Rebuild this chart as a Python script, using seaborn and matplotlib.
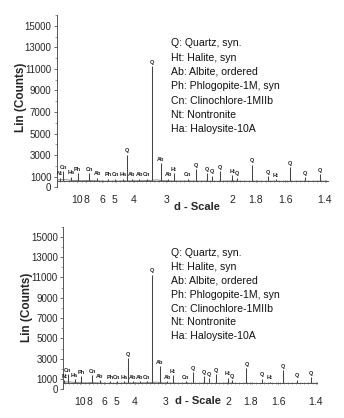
import numpy as np
import pandas as pd
import matplotlib
matplotlib.use("Agg")
import matplotlib.pyplot as plt
import seaborn as sns

# --- data (2-theta in degrees, Cu K-alpha) ---
peak_2theta = [4.96, 5.73, 7.46, 9.09, 11.80, 13.67, 16.17, 17.81, 19.60, 20.54,
               21.71, 23.48, 25.21, 26.52, 28.48, 30.26, 31.59, 34.79, 36.66, 39.37,
               40.53, 42.33, 45.21, 46.23, 49.74, 53.62, 55.42, 58.69, 62.19, 65.69]
peak_counts = [900, 1500, 1000, 1300, 1350, 900, 800, 800, 800, 3050,
               800, 800, 800, 11270, 2250, 800, 1350, 800, 1700, 1300,
               1100, 1500, 1150, 900, 2100, 1050, 750, 1850, 950, 1200]
peak_labels = ["Nt", "Cn", "Ha", "Ph", "Cn", "Ab", "Ph", "Cn", "Ha", "Q",
               "Ab", "Ab", "Cn", "Q", "Ab", "Ab", "Ht", "Cn", "Q", "Q",
               "Q", "Q", "Ht", "Q", "Q", "Q", "Ht", "Q", "Q", "Q"]

base_2theta = [4.5, 6, 8, 10, 12, 14, 16, 18, 20, 22, 24, 26, 27.5, 29, 31, 33, 35,
               37, 39, 41, 43, 45, 47, 49, 51, 53, 55, 57, 59, 61, 63, 65, 67.5]
base_counts = [700, 720, 650, 620, 640, 600, 580, 590, 600, 610, 620, 640, 700, 620,
               600, 590, 600, 580, 590, 570, 580, 600, 580, 570, 580, 570, 580, 570,
               570, 580, 570, 580, 570]

d_ticks = [10, 8, 6, 5, 4, 3, 2, 1.8, 1.6, 1.4]
y_ticks = [0, 1000, 3000, 5000, 7000, 9000, 11000, 13000, 15000]

phases = ["Q: Quartz, syn.", "Ht: Halite, syn", "Ab: Albite, ordered",
          "Ph: Phlogopite-1M, syn", "Cn: Clinochlore-1MIIb", "Nt: Nontronite",
          "Ha: Haloysite-10A"]

WAVELENGTH = 1.5406
AXIS_LEVEL = 570

sns.set_style("ticks")
plt.rcParams["font.family"] = ["Liberation Sans", "DejaVu Sans"]

W, H = 344, 418
fig = plt.figure(figsize=(W / 100, H / 100), dpi=100)

pattern = pd.DataFrame({"two_theta": base_2theta, "counts": base_counts})
d_pos = [2 * np.degrees(np.arcsin(WAVELENGTH / (2 * d))) for d in d_ticks]

# panel boxes in pixels: left, right, top(16000), y=0 ; xlim ; label positions
panels = [
    dict(l=57, r=328, t=15, b=187.4, xlim=(4.26, 67.56), leg_x=170.7, leg_y=43.3,
         leg_dy=14.3, ylab=(20.7, 97.5), xlab=(196.7, 207)),
    dict(l=63.3, r=316.7, t=226.6, b=389.2, xlim=(4.68, 67.03), leg_x=170.7, leg_y=253.3,
         leg_dy=13.8, ylab=(27, 307.5), xlab=(198.3, 401)),
]

for p in panels:
    ax = fig.add_axes([p["l"] / W, 1 - p["b"] / H, (p["r"] - p["l"]) / W, (p["b"] - p["t"]) / H])
    ax.set_facecolor("none")
    sns.lineplot(data=pattern, x="two_theta", y="counts", ax=ax, color="#777777",
                 linewidth=0.6, estimator=None)
    ax.vlines(peak_2theta, AXIS_LEVEL, peak_counts, color="#444444", linewidth=0.75)
    for x, y, lab in zip(peak_2theta, peak_counts, peak_labels):
        ax.text(x, y + 120, lab, fontsize=4, fontweight="bold", ha="center", va="bottom",
                color="#222222")

    ax.set_xlim(*p["xlim"])
    ax.set_ylim(0, 16000)
    ax.spines["top"].set_visible(False)
    ax.spines["right"].set_visible(False)
    ax.spines["bottom"].set_position(("data", AXIS_LEVEL))
    for s in ("left", "bottom"):
        ax.spines[s].set_color("#555555")
        ax.spines[s].set_linewidth(0.7)

    ax.set_xticks(d_pos)
    ax.set_xticklabels([f"{d:g}" for d in d_ticks])
    ax.set_xticks(np.arange(5, 68, 1.0), minor=True)
    ax.set_yticks(y_ticks)
    ax.set_yticklabels([str(v) for v in y_ticks])
    ax.set_yticks(np.arange(2000, 16001, 2000), minor=True)
    ax.tick_params(axis="x", which="major", labelsize=7.5, pad=9, length=2,
                   width=0.6, direction="inout", color="#555555")
    ax.tick_params(axis="x", which="minor", length=1.5, width=0.5, direction="inout",
                   color="#777777")
    ax.tick_params(axis="y", which="major", labelsize=7, pad=2, length=2,
                   width=0.6, color="#555555")
    ax.tick_params(axis="y", which="minor", length=1.5, width=0.5, color="#777777")
    ax.set_xlabel("")
    ax.set_ylabel("")

    fig.text(p["ylab"][0] / W, 1 - p["ylab"][1] / H, "Lin (Counts)",
             rotation=90, fontsize=8.5, fontweight="bold", ha="center", va="center")
    fig.text(p["xlab"][0] / W, 1 - p["xlab"][1] / H, "d - Scale", fontsize=8,
             fontweight="bold", ha="center", va="center")
    for i, txt in enumerate(phases):
        fig.text(p["leg_x"] / W, 1 - (p["leg_y"] + i * p["leg_dy"]) / H, txt,
                 fontsize=7.6, ha="left", va="center", color="#111111")

fig.savefig("out.png", dpi=100)
